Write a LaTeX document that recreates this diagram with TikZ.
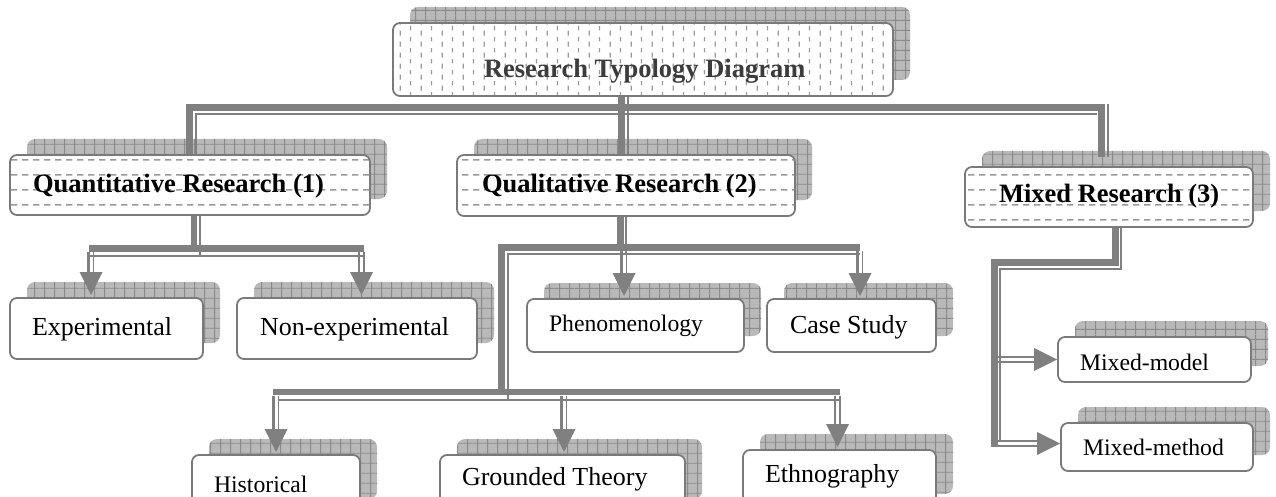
\documentclass[tikz,border=0pt]{standalone}
\usepackage{fontspec}
\setmainfont{Liberation Serif}
\usetikzlibrary{calc,patterns}

\definecolor{linegray}{HTML}{808080}
\definecolor{edgegray}{HTML}{7A7A7A}
\definecolor{shadefill}{HTML}{B9B9B9}
\definecolor{shadeline}{HTML}{8A8A8A}
\definecolor{dashgray}{HTML}{9A9A9A}
\definecolor{titlegray}{HTML}{3C3C3C}

% grid texture of the drop shadows
\pgfdeclarepatternformonly{cellgrid}{\pgfpointorigin}{\pgfpoint{10.3pt}{10.3pt}}{\pgfpoint{10.3pt}{10.3pt}}{%
  \pgfsetlinewidth{1pt}%
  \pgfpathmoveto{\pgfpoint{0pt}{5pt}}\pgfpathlineto{\pgfpoint{10.3pt}{5pt}}%
  \pgfpathmoveto{\pgfpoint{5pt}{0pt}}\pgfpathlineto{\pgfpoint{5pt}{10.3pt}}%
  \pgfusepath{stroke}}
% short vertical dashes of the title box
\pgfdeclarepatternformonly{vdashes}{\pgfpointorigin}{\pgfpoint{20.8pt}{10.7pt}}{\pgfpoint{20.8pt}{10.7pt}}{%
  \pgfsetlinewidth{1.3pt}%
  \pgfpathmoveto{\pgfpoint{5.2pt}{0.5pt}}\pgfpathlineto{\pgfpoint{5.2pt}{5.5pt}}%
  \pgfpathmoveto{\pgfpoint{15.6pt}{5.8pt}}\pgfpathlineto{\pgfpoint{15.6pt}{10.2pt}}%
  \pgfusepath{stroke}}
% horizontal dashes of the group boxes
\pgfdeclarepatternformonly{hdashes}{\pgfpointorigin}{\pgfpoint{11pt}{15pt}}{\pgfpoint{11pt}{15pt}}{%
  \pgfsetlinewidth{1.6pt}%
  \pgfpathmoveto{\pgfpoint{0pt}{7.5pt}}\pgfpathlineto{\pgfpoint{7pt}{7.5pt}}%
  \pgfusepath{stroke}}

\pgfdeclarelayer{shades}
\pgfdeclarelayer{links}
\pgfsetlayers{shades,links,main}

% drop shadow behind a box node
\newcommand\dropshade[1]{%
  \begin{pgfonlayer}{shades}
    \fill[shadefill, rounded corners=8pt, postaction={pattern=cellgrid, pattern color=shadeline}]
      ([shift={(17,-16)}]#1.north west) rectangle ([shift={(17,-16)}]#1.south east);
  \end{pgfonlayer}}

% double shaft with a triangular head pointing down onto a node
\newcommand\linkdown[3]{% #1 tip name, #2 start on the bar, #3 target node
  \coordinate (#1) at ($(#2 |- #3.north)+(0,-3)$);
  \draw[shafta] ([xshift=-2.5pt]#2) -- ([xshift=-2.5pt,yshift=21pt]#1);
  \draw[shaftb] ([xshift=2.5pt]#2) -- ([xshift=2.5pt,yshift=21pt]#1);
  \fill[linegray] (#1) -- ++(-11.5,-23) -- ++(23,0) -- cycle;}

% double shaft with a triangular head pointing right onto a node
\newcommand\linkright[3]{%
  \coordinate (#1) at ($(#3.west |- #2)+(-1,0)$);
  \draw[shafta] ([yshift=2.5pt]#2) -- ([xshift=-21pt,yshift=2.5pt]#1);
  \draw[shaftb] ([yshift=-2.5pt]#2) -- ([xshift=-21pt,yshift=-2.5pt]#1);
  \fill[linegray] (#1) -- ++(-23,-11.5) -- ++(0,23) -- cycle;}

\begin{document}
\begin{tikzpicture}[x=1pt,y=-1pt,
  box/.style={draw=edgegray, line width=1.8pt, rounded corners=7pt, fill=white,
    inner sep=0pt, outer sep=0pt, anchor=north west},
  titlebox/.style={box, preaction={fill=white}, pattern=vdashes, pattern color=dashgray},
  groupbox/.style={box, preaction={fill=white}, pattern=hdashes, pattern color=dashgray},
  lbl/.style={anchor=base west, inner sep=0pt, outer sep=0pt},
  headfont/.style={font=\fontsize{26.5}{30}\selectfont\bfseries},
  bigfont/.style={font=\fontsize{26}{30}\selectfont},
  smallfont/.style={font=\fontsize{23.7}{28}\selectfont},
  thk/.style={draw=linegray, line width=6.5pt},
  thn/.style={draw=linegray, line width=2pt},
  shafta/.style={draw=linegray, line width=2.5pt},
  shaftb/.style={draw=linegray, line width=1.6pt},
]
\useasboundingbox (0,0) rectangle (1276,497);

% ---- boxes ----
\node[titlebox, minimum width=500pt, minimum height=73pt] (title) at (393,23) {};
\node[groupbox, minimum width=360pt, minimum height=60pt] (quant) at (10,155) {};
\node[groupbox, minimum width=338pt, minimum height=61pt] (qual) at (457,155) {};
\node[groupbox, minimum width=288pt, minimum height=60pt] (mixed) at (965,167) {};
\node[box, minimum width=193pt, minimum height=61pt] (exp) at (10,298) {};
\node[box, minimum width=240pt, minimum height=61pt] (nonexp) at (237,298) {};
\node[box, minimum width=217pt, minimum height=53pt] (phen) at (527,299) {};
\node[box, minimum width=169pt, minimum height=53pt] (case) at (767,299) {};
\node[box, minimum width=168pt, minimum height=60pt] (hist) at (192,455) {};
\node[box, minimum width=245pt, minimum height=60pt] (grounded) at (440,455) {};
\node[box, minimum width=193pt, minimum height=60pt] (ethno) at (743,450) {};
\node[box, minimum width=193pt, minimum height=45pt] (mmodel) at (1058,337) {};
\node[box, minimum width=192pt, minimum height=48pt] (mmethod) at (1061,423) {};

\foreach \b in {title,quant,qual,mixed,exp,nonexp,phen,case,hist,grounded,ethno,mmodel,mmethod}
  {\dropshade{\b}}

% ---- labels ----
\node[lbl, headfont, text=titlegray] (title-t) at (484,78) {Research Typology Diagram};
\node[lbl, headfont] (quant-t) at (33,193) {Quantitative Research (1)};
\node[lbl, headfont] (qual-t) at (482,193) {Qualitative Research (2)};
\node[lbl, headfont] (mixed-t) at (999,203) {Mixed Research (3)};
\node[lbl, bigfont] (exp-t) at (32,335) {Experimental};
\node[lbl, bigfont] (nonexp-t) at (260,335) {Non-experimental};
\node[lbl, smallfont] (phen-t) at (549,331) {Phenomenology};
\node[lbl, bigfont] (case-t) at (790,333) {Case Study};
\node[lbl, smallfont] (hist-t) at (214,492) {Historical};
\node[lbl, bigfont] (grounded-t) at (462,485) {Grounded Theory};
\node[lbl, bigfont] (ethno-t) at (765,482) {Ethnography};
\node[lbl, smallfont] (mmodel-t) at (1080,370) {Mixed-model};
\node[lbl, smallfont] (mmethod-t) at (1083,455) {Mixed-method};

% ---- connectors ----
\begin{pgfonlayer}{links}
  % title to the three research groups
  \coordinate (tk) at (621.5,0);
  \coordinate (tn) at (628,0);
  \draw[thk] (title.south -| tk) -- (qual.north -| tk);
  \draw[thn] (title.south -| tn) -- (qual.north -| tn);
  \coordinate (tkl) at (189.5,107.5);
  \coordinate (tkr) at (1101.5,107.5);
  \draw[thk] (quant.north -| tkl) -- (tkl) -- (tkr) -- ([yshift=10pt]mixed.north -| tkr);
  \coordinate (tnl) at (196,114);
  \coordinate (tnr) at (1097,114);
  \draw[thn] (quant.north -| tnl) -- (tnl) -- (tnr);
  \coordinate (tnr2) at (1108,104);
  \draw[thn] (tnr2) -- ([yshift=10pt]mixed.north -| tnr2);

  % quantitative branch
  \coordinate (qk) at (194,248.5);
  \coordinate (qn) at (200,256);
  \draw[thk] (quant.south -| qk) -- (qk);
  \draw[thn] (quant.south -| qn) -- (qn);
  \coordinate (qkl) at (89,248.5);
  \coordinate (qkr) at (364,248.5);
  \draw[thk] (qkl) -- (qkr);
  \coordinate (qnl) at (89,256);
  \coordinate (qnr) at (364,256);
  \draw[thn] (qnl) -- (qnr);
  \coordinate (qd1) at (91,252);
  \coordinate (qd2) at (361.5,252);
  \linkdown{qa1}{qd1}{exp}
  \linkdown{qa2}{qd2}{nonexp}

  % qualitative branch
  \coordinate (lk) at (620.5,247.5);
  \coordinate (ln) at (626,254);
  \draw[thk] (qual.south -| lk) -- (lk);
  \draw[thn] (qual.south -| ln) -- (ln);
  \coordinate (lkr) at (860,247.5);
  \coordinate (lkl) at (501.5,247.5);
  \coordinate (lkd) at (501.5,392);
  \draw[thk] (lkr) -- (lkl) -- (lkd);
  \coordinate (lnr) at (860,254);
  \coordinate (lnl) at (508,254);
  \coordinate (lnd) at (508,400);
  \draw[thn] (lnr) -- (lnl) -- (lnd);
  \coordinate (bkl) at (273,392);
  \coordinate (bkr) at (840,392);
  \draw[thk] (bkl) -- (bkr);
  \coordinate (bnl) at (279,400);
  \coordinate (bnr) at (840,400);
  \draw[thn] (bnl) -- (bnr);
  \coordinate (ld1) at (624,251);
  \coordinate (ld2) at (860,251);
  \linkdown{la1}{ld1}{phen}
  \linkdown{la2}{ld2}{case}
  \coordinate (bd1) at (276,395.5);
  \coordinate (bd2) at (564,395.5);
  \coordinate (bd3) at (837.5,395.5);
  \linkdown{ba1}{bd1}{hist}
  \linkdown{ba2}{bd2}{grounded}
  \linkdown{ba3}{bd3}{ethno}

  % mixed branch
  \coordinate (mk1) at (1115.5,262.5);
  \coordinate (mk2) at (994.5,262.5);
  \coordinate (mk3) at (994.5,446.5);
  \draw[thk] (mixed.south -| mk1) -- (mk1) -- (mk2) -- (mk3);
  \coordinate (mn1) at (1121,269);
  \coordinate (mn2) at (1000,269);
  \coordinate (mn3) at (1000,441);
  \draw[thn] (mixed.south -| mn1) -- (mn1) -- (mn2) -- (mn3);
  \coordinate (md1) at (997,359.5);
  \coordinate (md2) at (997,443.5);
  \linkright{ma1}{md1}{mmodel}
  \linkright{ma2}{md2}{mmethod}
\end{pgfonlayer}
\end{tikzpicture}
\end{document}
